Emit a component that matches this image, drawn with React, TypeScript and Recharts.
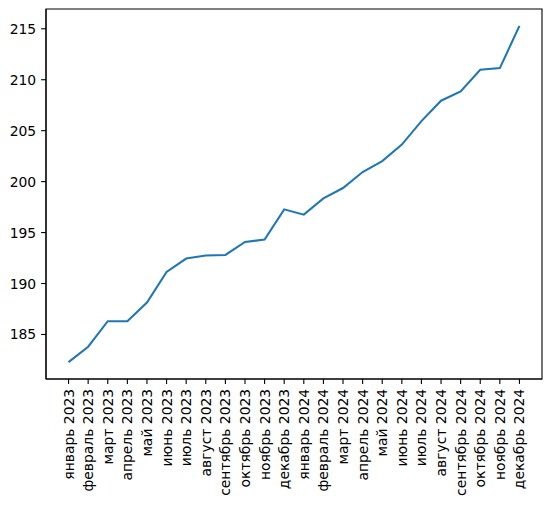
import React from "react";
import { LineChart, Line, XAxis, YAxis, ReferenceArea } from "recharts";

const months: string[] = [
  "январь 2023", "февраль 2023", "март 2023", "апрель 2023", "май 2023", "июнь 2023",
  "июль 2023", "август 2023", "сентябрь 2023", "октябрь 2023", "ноябрь 2023", "декабрь 2023",
  "январь 2024", "февраль 2024", "март 2024", "апрель 2024", "май 2024", "июнь 2024",
  "июль 2024", "август 2024", "сентябрь 2024", "октябрь 2024", "ноябрь 2024", "декабрь 2024",
];

const values: number[] = [
  182.28, 183.8, 186.3, 186.3, 188.14, 191.14, 192.45, 192.75, 192.8, 194.08, 194.31, 197.28,
  196.76, 198.35, 199.37, 200.94, 202.02, 203.63, 205.94, 207.94, 208.85, 210.98, 211.14, 215.29,
];

const yTicks: number[] = [185, 190, 195, 200, 205, 210, 215];

const data = months.map((m, i) => ({ idx: i, label: m, value: values[i] }));
const xTicks = data.map((d) => d.idx);

const X_DOMAIN: [number, number] = [-1.15, 24.15];
const Y_DOMAIN: [number, number] = [180.63, 216.94];

const FONT = "DejaVu Sans, sans-serif";

const XTick = (props: any) => {
  const { x, y, payload } = props;
  return (
    <text
      x={x}
      y={y}
      transform={`rotate(-90 ${x} ${y})`}
      textAnchor="end"
      dominantBaseline="central"
      fontFamily={FONT}
      fontSize={13.9}
      fill="#000"
    >
      {months[payload.value]}
    </text>
  );
};

const YTick = (props: any) => {
  const { x, y, payload } = props;
  return (
    <text
      x={x}
      y={y}
      textAnchor="end"
      dominantBaseline="central"
      fontFamily={FONT}
      fontSize={13.9}
      fill="#000"
    >
      {payload.value}
    </text>
  );
};

export default function App() {
  return (
    <div style={{ marginLeft: -8, marginTop: -8, width: 552, height: 506, background: "#fff" }}>
      <LineChart
        width={552}
        height={506}
        data={data}
        margin={{ top: 9, right: 10, left: 0, bottom: 0 }}
      >
        <XAxis
          dataKey="idx"
          type="number"
          domain={X_DOMAIN}
          ticks={xTicks}
          interval={0}
          allowDataOverflow
          height={127}
          tickSize={4.9}
          tickMargin={4.9}
          tick={<XTick />}
          axisLine={{ stroke: "#000", strokeWidth: 1.1 }}
          tickLine={{ stroke: "#000", strokeWidth: 1.1 }}
        />
        <YAxis
          type="number"
          domain={Y_DOMAIN}
          ticks={yTicks}
          allowDataOverflow
          width={46}
          tickSize={4.9}
          tickMargin={4.9}
          tick={<YTick />}
          axisLine={{ stroke: "#000", strokeWidth: 1.1 }}
          tickLine={{ stroke: "#000", strokeWidth: 1.1 }}
        />
        <Line
          dataKey="value"
          stroke="#1f77b4"
          strokeWidth={2.08}
          dot={false}
          isAnimationActive={false}
        />
        <ReferenceArea
          x1={X_DOMAIN[0]}
          x2={X_DOMAIN[1]}
          y1={Y_DOMAIN[0]}
          y2={Y_DOMAIN[1]}
          fill="none"
          fillOpacity={0}
          stroke="#000"
          strokeWidth={1.1}
          ifOverflow="visible"
        />
      </LineChart>
    </div>
  );
}
